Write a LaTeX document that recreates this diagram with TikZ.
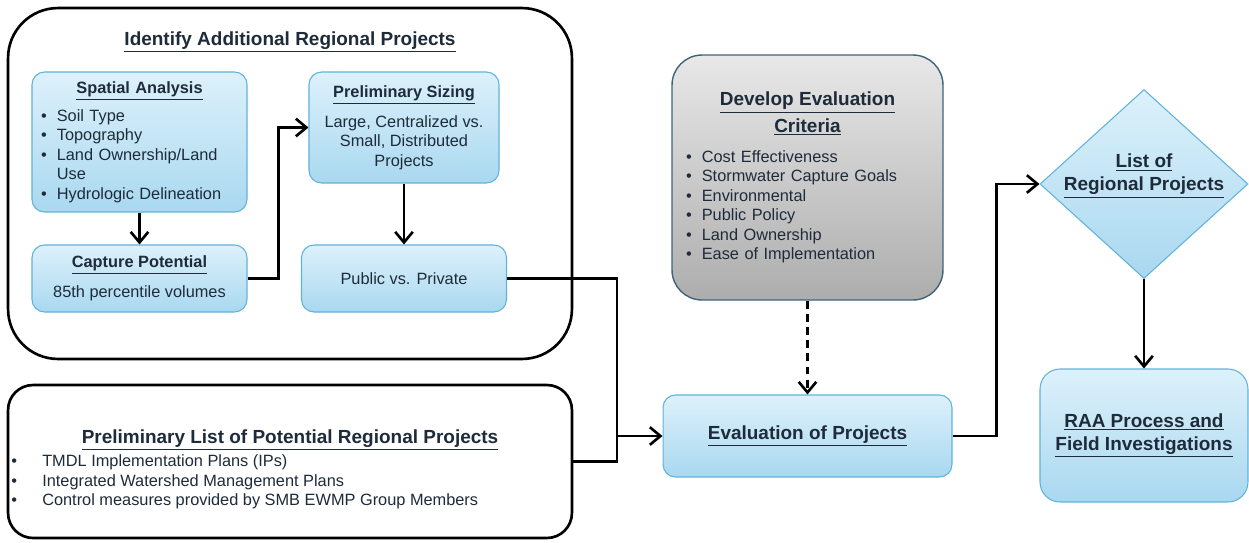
\documentclass[tikz,border=0pt]{standalone}
\usepackage{fontspec}
\setmainfont{Liberation Sans}
\usepackage{tikz}
\usetikzlibrary{arrows.meta,shapes.geometric,positioning,calc}

\definecolor{boxblue}{HTML}{5FB3DA}
\definecolor{bluetop}{HTML}{DDF1FB}
\definecolor{bluebot}{HTML}{A9D8F0}
\definecolor{graytop}{HTML}{E8E8E8}
\definecolor{graybot}{HTML}{ADADAD}
\definecolor{grayedge}{HTML}{3E6478}
\definecolor{inktext}{HTML}{1E2B3A}

\newcommand{\hd}[1]{\underline{\textbf{#1}}}
\newcommand{\bighd}[1]{{\fontsize{10.8}{13}\selectfont\bfseries\underline{#1}}}
\newcommand{\itm}[1][9pt]{\makebox[#1][l]{\textbullet}}

\begin{document}
\begin{tikzpicture}[x=0.02cm, y=-0.02cm,
	body/.style={font=\fontsize{9.3}{11.1}\selectfont, text=inktext},
	frame/.style={draw=black, line width=1.5pt, rounded corners=1cm, fill=white},
	bluebox/.style={draw=boxblue, line width=0.6pt, rounded corners=0.25cm, top color=bluetop, bottom color=bluebot, body, align=center, inner sep=0pt},
	graybox/.style={draw=grayedge, line width=0.8pt, rounded corners=0.6cm, top color=graytop, bottom color=graybot, body, inner sep=0pt},
	arr/.style={-{Straight Barb[length=6pt,width=10pt]}, line width=1.5pt},
	lnk/.style={line width=1.5pt}]
	\useasboundingbox (0,0) rectangle (1249,542);

	\node[frame, minimum width=11.28cm, minimum height=7.02cm] (ident) at (290,183.5) {};
	\node[body] (identtitle) at (290,42) {\bighd{Identify Additional Regional Projects}};
	\node[frame, rounded corners=0.5cm, minimum width=11.28cm, minimum height=3.06cm] (plist) at (290,461.5) {};
	\node[body] (plisttitle) at (290,440) {\bighd{Preliminary List of Potential Regional Projects}};
	\node[body, align=left, anchor=west, inner sep=0pt] (plistitems) at (11,482) {\itm[17.6pt]TMDL Implementation Plans (IPs)\\ \itm[17.6pt]Integrated Watershed Management Plans\\ \itm[17.6pt]Control measures provided by SMB EWMP Group Members};

	\node[bluebox, text width=3.94cm, align=left, minimum width=4.3cm, minimum height=2.8cm] (spatial) at (139.5,142) {\makebox[\linewidth]{\hd{Spatial Analysis}}\\[5pt] \itm Soil Type\\ \itm Topography\\ \itm Land Ownership/Land\\ \hspace*{9pt}Use\\ \itm Hydrologic Delineation};
	\node[bluebox, minimum width=4.3cm, minimum height=1.34cm] (capture) at (139.5,278.5) {\hd{Capture Potential}\\[6pt] 85th percentile volumes};
	\node[bluebox, minimum width=3.8cm, minimum height=2.22cm] (sizing) at (404,127.5) {\hd{Preliminary Sizing}\\[6pt] Large, Centralized vs.\\ Small, Distributed\\ Projects};
	\node[bluebox, minimum width=4.1cm, minimum height=1.34cm] (public) at (404,278.5) {Public vs. Private};

	\node[graybox, text width=4.86cm, align=left, minimum width=5.42cm, minimum height=4.9cm] (develop) at (807.5,177.5) {\makebox[\linewidth]{\bighd{Develop Evaluation}}\\[2pt] \makebox[\linewidth]{\bighd{Criteria}}\\[6pt] \itm Cost Effectiveness\\ \itm Stormwater Capture Goals\\ \itm Environmental\\ \itm Public Policy\\ \itm Land Ownership\\ \itm Ease of Implementation};
	\node[bluebox, minimum width=5.78cm, minimum height=1.64cm] (eval) at (807.5,436) {\bighd{Evaluation of Projects}};

	\node[diamond, draw=boxblue, line width=0.6pt, top color=bluetop, bottom color=bluebot, minimum width=4.16cm, minimum height=3.78cm, inner sep=0pt] (lrp) at (1144,184) {};
	\node[body, align=center] (lrptext) at (1144,176) {\bighd{List of}\\[2pt] \bighd{Regional Projects}};
	\node[bluebox, rounded corners=0.4cm, minimum width=4.16cm, minimum height=2.66cm] (raa) at (1144,435.5) {\bighd{RAA Process and}\\[2pt] \bighd{Field Investigations}};

	\draw[arr] (spatial) -- (capture);
	\draw[arr] (capture.east) -- ++(31,0) |- (sizing.west);
	\draw[arr] (sizing) -- (public);
	\coordinate (merge) at (617,436);
	\draw[lnk] (public.east) -| (merge);
	\draw[lnk] (plist.east) -| (merge);
	\draw[arr] (merge) -- (eval);
	\draw[arr, dash pattern=on 4.5pt off 3pt] (develop) -- (eval);
	\draw[arr] (eval.east) -- ++(44,0) |- (lrp.west);
	\draw[arr] (lrp.south) -- (raa);
\end{tikzpicture}
\end{document}
